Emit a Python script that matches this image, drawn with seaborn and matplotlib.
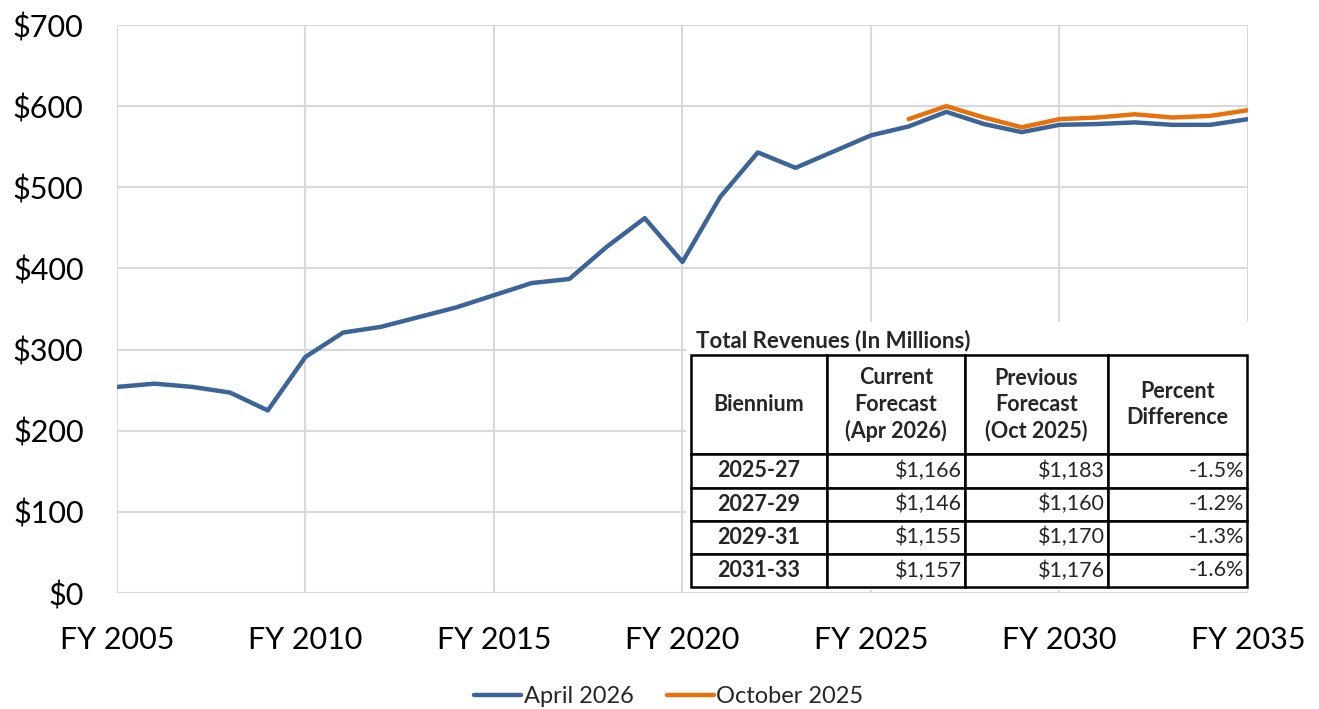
import pandas as pd
import seaborn as sns
import matplotlib.pyplot as plt
from matplotlib.patches import Rectangle
from matplotlib.ticker import FuncFormatter

# Data (millions of dollars)
years_apr = list(range(2005, 2036))
april_2026 = [254, 258, 254, 247, 225, 291, 321, 328, 340, 352, 367, 382, 387,
              427, 462, 408, 488, 543, 524, 544, 564, 575, 593, 578, 568, 577,
              578, 580, 577, 577, 584]
years_oct = list(range(2026, 2036))
october_2025 = [584, 600, 586, 574, 584, 586, 590, 586, 588, 595]

# Inset table
table_title = 'Total Revenues (In Millions)'
col_labels = ['Biennium', 'Current\nForecast\n(Apr 2026)',
              'Previous\nForecast\n(Oct 2025)', 'Percent\nDifference']
biennium = ['2025-27', '2027-29', '2029-31', '2031-33']
current = ['$1,166', '$1,146', '$1,155', '$1,157']
previous = ['$1,183', '$1,160', '$1,170', '$1,176']
pct_diff = ['-1.5%', '-1.2%', '-1.3%', '-1.6%']

df = pd.concat([
    pd.DataFrame({'year': years_apr, 'value': april_2026, 'series': 'April 2026'}),
    pd.DataFrame({'year': years_oct, 'value': october_2025, 'series': 'October 2025'}),
])

sns.set_theme(style='white')
plt.rcParams['font.family'] = ['Lato', 'DejaVu Sans']

fig = plt.figure(figsize=(13.19, 7.09), dpi=100)
ax = fig.add_axes([0.0887, 0.1636, 0.8574, 0.8011])

sns.lineplot(data=df, x='year', y='value', hue='series',
             palette={'April 2026': '#3B6499', 'October 2025': '#E8710A'},
             linewidth=3.2, ax=ax, legend=False)

ax.set_xlim(2005, 2035)
ax.set_ylim(0, 700)
ax.set_xticks(range(2005, 2036, 5))
ax.set_xticklabels([f'FY {y}' for y in range(2005, 2036, 5)])
ax.set_yticks(range(0, 701, 100))
ax.yaxis.set_major_formatter(FuncFormatter(lambda v, p: f'${v:,.0f}'))
ax.grid(True, color='#D9D9D9', linewidth=1.5)
ax.set_axisbelow(True)
for s in ax.spines.values():
    s.set_visible(False)
ax.tick_params(axis='x', labelsize=22, pad=24, length=0, colors='black')
ax.tick_params(axis='y', labelsize=22, pad=24, length=0, colors='black')
ax.set_xlabel('')
ax.set_ylabel('')

# legend
handles = [plt.Line2D([], [], color='#3B6499', lw=3.2),
           plt.Line2D([], [], color='#E8710A', lw=3.2)]
fig.legend(handles, ['April 2026', 'October 2025'], loc='center',
           bbox_to_anchor=(0.507, 0.017), ncol=2, frameon=False,
           fontsize=17, handlelength=2.0, handletextpad=0.1, columnspacing=1.4)

# white backdrop behind the table
fig.patches.append(Rectangle((0.520, 0.168), 0.428, 0.378, transform=fig.transFigure,
                             facecolor='white', edgecolor='none', zorder=1))
fig.text(0.528, 0.520, table_title, fontsize=16, fontweight='bold',
         va='center', ha='left', zorder=3)

tax = fig.add_axes([0.5239, 0.1721, 0.4215, 0.3272])
tax.set_zorder(2)
tax.axis('off')
cells = [[b, c, p, d] for b, c, p, d in zip(biennium, current, previous, pct_diff)]
tbl = tax.table(cellText=cells, colLabels=col_labels, bbox=[0, 0, 1, 1],
                cellLoc='right')
tbl.auto_set_font_size(False)
tbl.set_fontsize(15.5)
widths = [136, 138, 143, 139]
for (r, c), cell in tbl.get_celld().items():
    cell.set_edgecolor('black')
    cell.set_linewidth(1.8)
    cell.set_width(widths[c])
    cell.set_height(3 if r == 0 else 1)
    cell.PAD = 0.02
    txt = cell.get_text()
    if r == 0 or c == 0:
        txt.set_fontweight('bold')
        txt.set_ha('center')
        cell._loc = 'center'
    if r == 0:
        txt.set_linespacing(1.3)
    txt.set_fontsize(15.5)

fig.savefig('out.png', dpi=100)
